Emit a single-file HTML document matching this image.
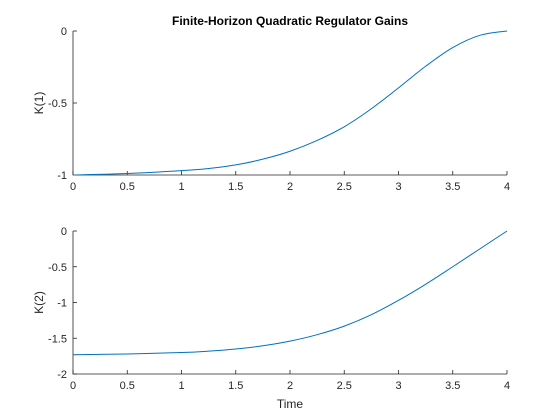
<!DOCTYPE html>
<html><head><meta charset="utf-8"><style>
body{margin:0;background:#fff;}
svg{display:block;font-family:"Liberation Sans",Arial,sans-serif;}
</style></head><body>
<svg id="fig" width="560" height="420" viewBox="0 0 560 420">
<rect width="560" height="420" fill="#fff"/>
<text x="290" y="25" text-anchor="middle" font-size="12" font-weight="bold" fill="#000">Finite-Horizon Quadratic Regulator Gains</text>
<g id="ax1"></g>
<g id="ax2"></g>
<text x="290" y="408" text-anchor="middle" font-size="12" fill="#262626">Time</text>
</svg>
<script>
const times1 = [0,0.5,1,1.25,1.5,1.75,2,2.25,2.5,2.75,3,3.25,3.5,3.75,4];
const k1 = [-1,-0.99,-0.97,-0.955,-0.93,-0.89,-0.835,-0.76,-0.665,-0.54,-0.395,-0.245,-0.115,-0.03,0];
const times2 = [0,0.5,1,1.25,1.5,1.75,2,2.25,2.5,2.75,3,3.25,3.5,3.75,4];
const k2 = [-1.73,-1.72,-1.70,-1.68,-1.65,-1.605,-1.54,-1.45,-1.33,-1.17,-0.97,-0.745,-0.5,-0.25,0];
const xTicks = [0,0.5,1,1.5,2,2.5,3,3.5,4];
const xTickLabels = ["0","0.5","1","1.5","2","2.5","3","3.5","4"];
const y1Ticks = [-1,-0.5,0];
const y1Labels = ["-1","-0.5","0"];
const y2Ticks = [-2,-1.5,-1,-0.5,0];
const y2Labels = ["-2","-1.5","-1","-0.5","0"];
const NS="http://www.w3.org/2000/svg";
function mk(tag,attrs,parent){const e=document.createElementNS(NS,tag);for(const k in attrs)e.setAttribute(k,attrs[k]);parent.appendChild(e);return e;}
function drawAxes(g,top,bottom,ymin,ymax,yt,yl,xs,ys,ylabel,prefix){
  const L=73,R=507;
  const sx=v=>L+(v-0)/(4-0)*(R-L);
  const sy=v=>bottom-(v-ymin)/(ymax-ymin)*(bottom-top);
  const ax=mk('path',{d:`M${L},${top}V${bottom}H${R}`,stroke:'#262626','stroke-width':0.8,fill:'none'},g);
  
  
  xTicks.forEach((t,i)=>{
    const x=sx(t);
    const tk=mk('line',{x1:x,x2:x,y1:bottom,y2:bottom-4,stroke:'#262626','stroke-width':0.8},g);
    
    
    const tx=mk('text',{x:x,y:bottom+15,'text-anchor':'middle','font-size':11,fill:'#262626'},g);
    tx.textContent=xTickLabels[i];
    
    
  });
  yt.forEach((t,i)=>{
    const y=sy(t);
    const tk=mk('line',{x1:L,x2:L+4,y1:y,y2:y,stroke:'#262626','stroke-width':0.8},g);
    
    
    const tx=mk('text',{x:L-6,y:y+4,'text-anchor':'end','font-size':11,fill:'#262626'},g);
    tx.textContent=yl[i];
    
    
  });
  const lab=mk('text',{x:0,y:0,'text-anchor':'middle','font-size':12,fill:'#262626',transform:`translate(43,${(top+bottom)/2}) rotate(-90)`},g);
  lab.textContent=ylabel;
  
  
  const P=xs.map((t,i)=>[sx(t),sy(ys[i])]);
  let d=`M${P[0][0]},${P[0][1]}`;
  for(let i=0;i<P.length-1;i++){
    const p0=P[Math.max(i-1,0)],p1=P[i],p2=P[i+1],p3=P[Math.min(i+2,P.length-1)];
    const c1=[p1[0]+(p2[0]-p0[0])/6,p1[1]+(p2[1]-p0[1])/6];
    const c2=[p2[0]-(p3[0]-p1[0])/6,p2[1]-(p3[1]-p1[1])/6];
    d+=`C${c1[0]},${c1[1]} ${c2[0]},${c2[1]} ${p2[0]},${p2[1]}`;
  }
  const ln=mk('path',{d:d,stroke:'#0072bd','stroke-width':1,fill:'none'},g);
  
  
}
drawAxes(document.getElementById('ax1'),31,175,-1,0,y1Ticks,y1Labels,times1,k1,'K(1)','top');
drawAxes(document.getElementById('ax2'),231,374,-2,0,y2Ticks,y2Labels,times2,k2,'K(2)','bottom');
</script>
</body></html>
